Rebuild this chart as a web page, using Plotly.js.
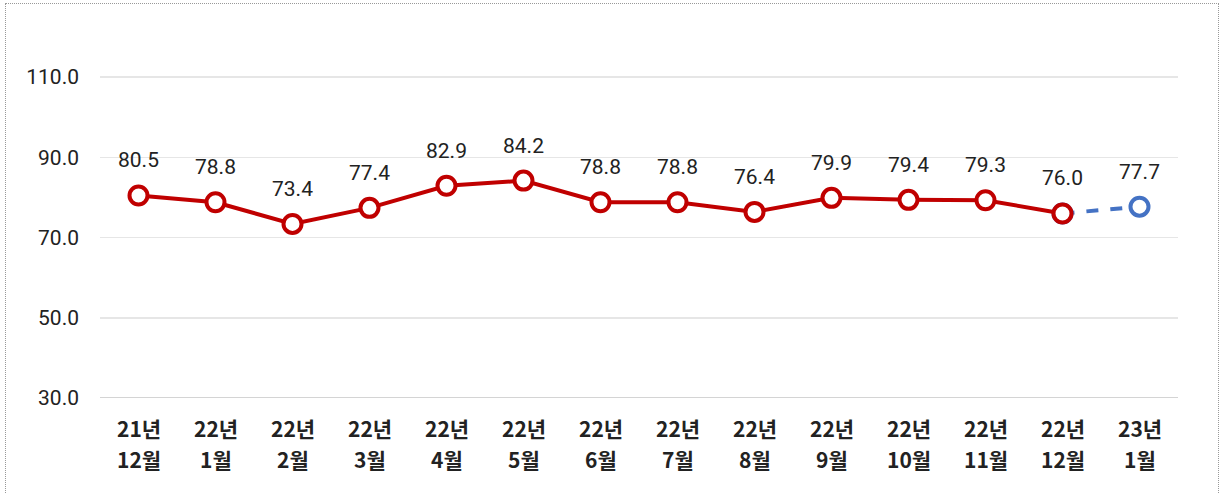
<!DOCTYPE html>
<html>
<head>
<meta charset="utf-8">
<script src="https://cdn.plot.ly/plotly-3.0.1.min.js"></script>
<style>
  body { margin: 0; background: #fff; }
  #plot { width: 1223px; height: 494px; }
  #frame { position: absolute; left: 5px; top: 3px; width: 1212px; height: 500px; border: 1px dotted #999; pointer-events: none; }
</style>
</head>
<body>
<div id="plot"></div>
<div id="frame"></div>
<script>
// months shown on the x axis (year line, month line)
const months = ['21년 12월', '22년 1월', '22년 2월', '22년 3월', '22년 4월', '22년 5월',
  '22년 6월', '22년 7월', '22년 8월', '22년 9월', '22년 10월', '22년 11월', '22년 12월', '23년 1월'];
const yearLabels = ['21년', '22년', '22년', '22년', '22년', '22년', '22년', '22년', '22년', '22년', '22년', '22년', '22년', '23년'];
const monthLabels = ['12월', '1월', '2월', '3월', '4월', '5월', '6월', '7월', '8월', '9월', '10월', '11월', '12월', '1월'];
const actual = [80.5, 78.8, 73.4, 77.4, 82.9, 84.2, 78.8, 78.8, 76.4, 79.9, 79.4, 79.3, 76.0];
const forecastX = ['22년 12월', '23년 1월'];
const forecast = [76.0, 77.7];
const yTicks = [30, 50, 70, 90, 110];

const red = '#C00000';
const blue = '#4472C4';
const labelFont = {family: '"Noto Sans CJK KR", sans-serif', size: 21, color: '#222', weight: 'bold'};

const data = [
  {
    x: forecastX,
    y: forecast,
    type: 'scatter',
    mode: 'lines+markers',
    line: {color: blue, width: 4, dash: 'dash'},
    marker: {symbol: 'circle', size: 18, color: '#fff', line: {color: blue, width: 4}},
    hoverinfo: 'skip'
  },
  {
    x: months.slice(0, actual.length),
    y: actual,
    type: 'scatter',
    mode: 'lines+markers',
    line: {color: red, width: 4},
    marker: {symbol: 'circle', size: 18, color: '#fff', line: {color: red, width: 4}},
    hoverinfo: 'skip'
  }
];

// value labels above each point
const labelsX = months.slice(0, actual.length).concat([forecastX[1]]);
const labelsY = actual.concat([forecast[1]]);
let annotations = labelsX.map((m, i) => ({
  x: m,
  y: labelsY[i],
  text: labelsY[i].toFixed(1),
  showarrow: false,
  yshift: 35,
  font: {family: 'Roboto, "Noto Sans CJK KR", sans-serif', size: 21, color: '#222'}
}));

// two-line category labels under the axis
months.forEach((m, i) => {
  annotations.push({x: m, xref: 'x', yref: 'paper', y: 0, yanchor: 'middle', yshift: -30,
    text: yearLabels[i], showarrow: false, font: labelFont});
  annotations.push({x: m, xref: 'x', yref: 'paper', y: 0, yanchor: 'middle', yshift: -61,
    text: monthLabels[i], showarrow: false, font: labelFont});
});

const layout = {
  width: 1223,
  height: 494,
  margin: {l: 100, r: 45, t: 37, b: 96},
  paper_bgcolor: '#fff',
  plot_bgcolor: '#fff',
  showlegend: false,
  xaxis: {
    type: 'category',
    categoryorder: 'array',
    categoryarray: months,
    range: [-0.5, 13.5],
    showgrid: false,
    showline: false,
    zeroline: false,
    ticks: '',
    showticklabels: false
  },
  yaxis: {
    range: [30, 120],
    tickvals: yTicks,
    ticktext: yTicks.map(v => v.toFixed(1)),
    showgrid: true,
    gridcolor: '#e6e6e6',
    gridwidth: 1.5,
    zeroline: false,
    showline: false,
    ticks: '',
    ticklabelstandoff: 20,
    tickfont: {family: 'Roboto, "Noto Sans", sans-serif', size: 21, color: '#222'}
  },
  shapes: [{
    type: 'line', xref: 'paper', yref: 'y', x0: 0, x1: 1, y0: 30, y1: 30,
    line: {color: '#d4d4d4', width: 2}
  }],
  annotations: annotations
};

Plotly.newPlot('plot', data, layout, {staticPlot: true});
</script>
</body>
</html>
